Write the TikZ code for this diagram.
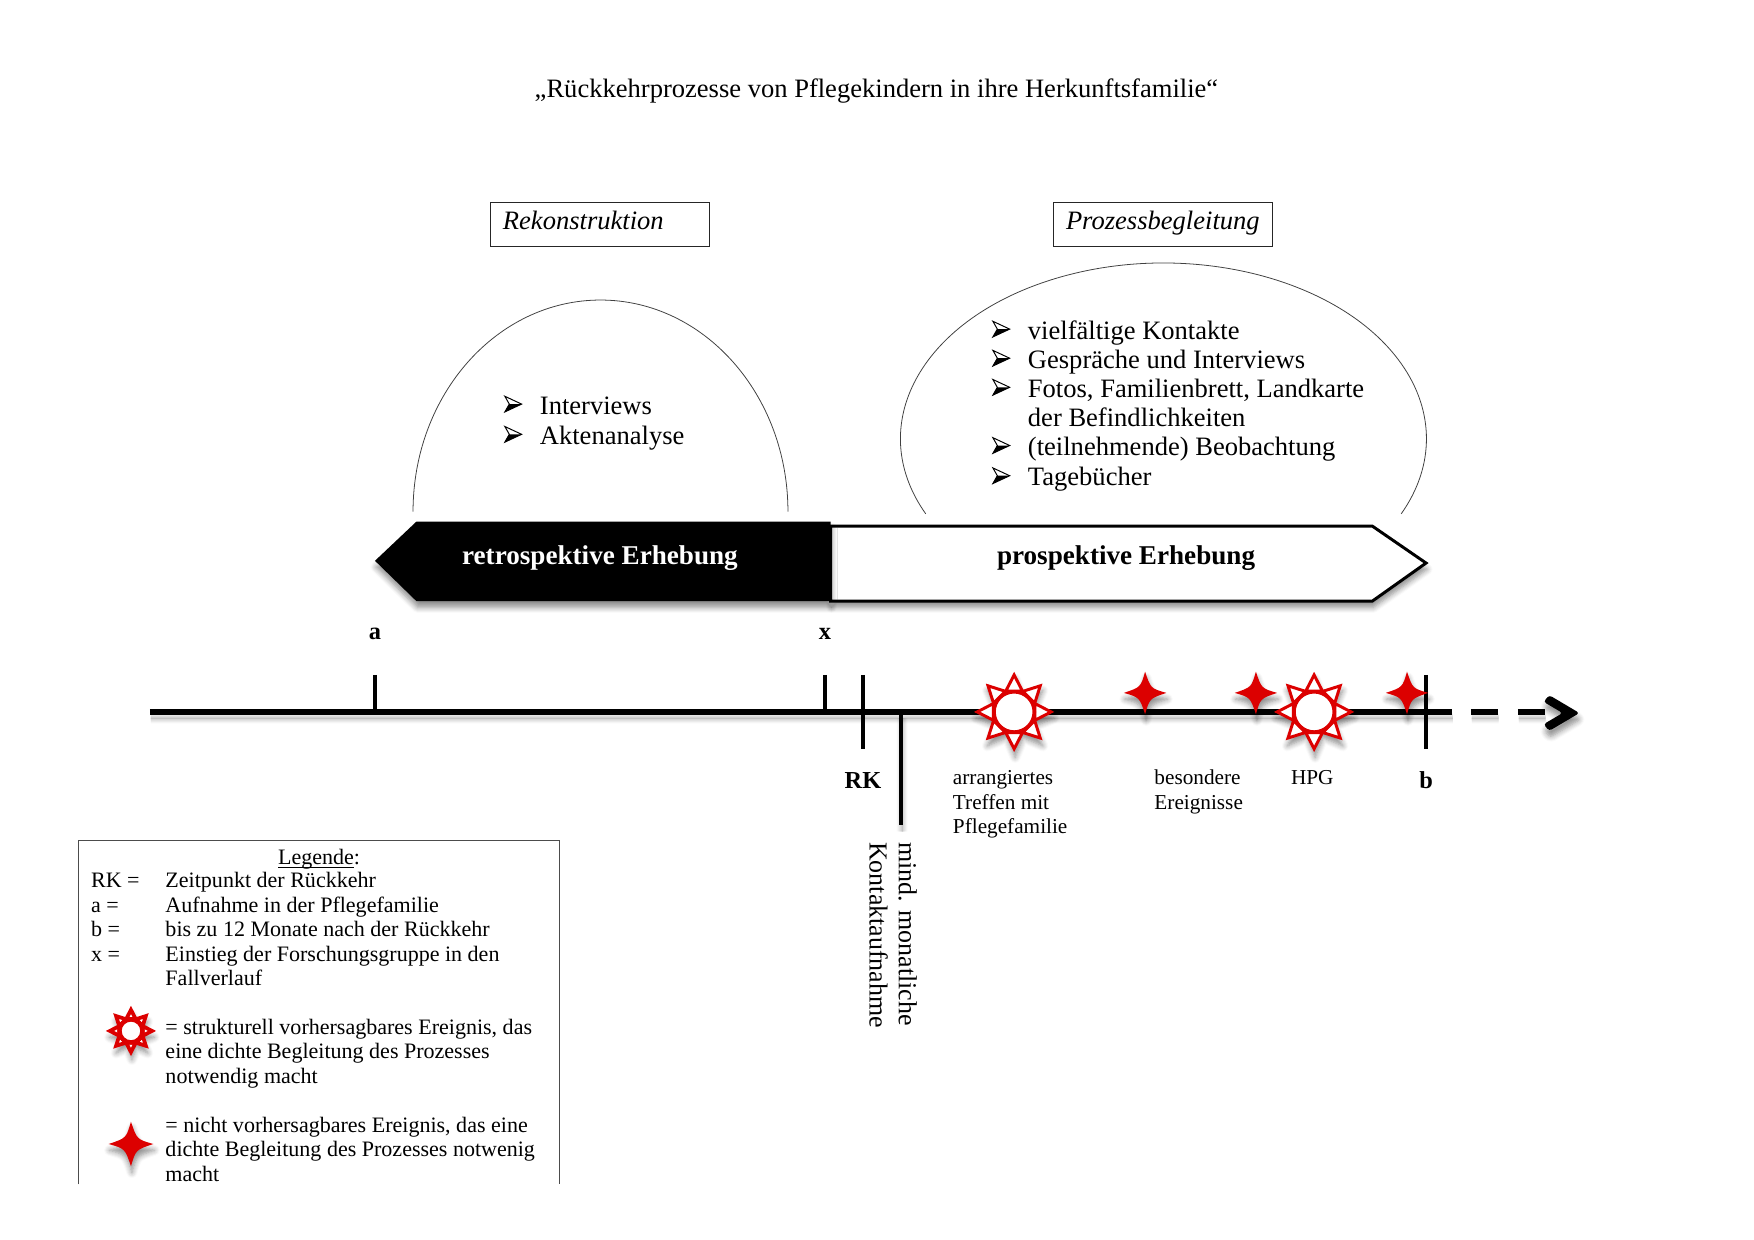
\documentclass[tikz,border=0pt]{standalone}
\usepackage{fontspec}
\setmainfont{Liberation Serif}
\usetikzlibrary{positioning,shadows,shadows.blur}
\definecolor{eventred}{HTML}{DC0000}
\newcommand{\bigtext}{\fontsize{13.5}{15}\selectfont}
\newcommand{\smalltext}{\fontsize{11.2}{12.5}\selectfont}
\tikzset{
	soft shadow/.style = {blur shadow={shadow xshift=.5pt, shadow yshift=-3.2pt, shadow blur steps=6, shadow blur radius=2.8pt, shadow opacity=45}},
	head box/.style    = {draw=black!85, line width=.5pt},
	head text/.style   = {anchor=base west, inner sep=0pt, font=\bigtext\itshape},
	hill/.style        = {draw=black!75, line width=.4pt},
	bar text/.style    = {font=\fontsize{13.8}{15}\selectfont\bfseries, inner sep=0pt},
	item/.style        = {anchor=base west, inner sep=0pt, font=\bigtext},
	axis/.style        = {line width=3.2pt, black, soft shadow},
	tick/.style        = {line width=1.7pt, black},
	tick label/.style  = {font=\fontsize{12.4}{15}\selectfont\bfseries, inner sep=0pt},
	event text/.style  = {anchor=base west, inner sep=0pt, font=\fontsize{10.8}{13}\selectfont},
	turned text/.style = {anchor=base west, inner sep=0pt, rotate=-90, font=\fontsize{13.2}{15}\selectfont},
	legend text/.style = {anchor=base west, inner sep=0pt, font=\smalltext},
	sun stroke/.store in = \sunstroke,
	sun stroke = 1.5pt,
	pics/list bullet/.style = {code={
		\draw[black, fill=white, line width=.5pt, line join=miter] (-7,-7) -- (8,0) -- (-7,7) -- (-3,0) -- cycle;
		\fill[black] (-3,0) -- (8,0) -- (-7,7) -- cycle;
	}},
	pics/event sun/.style = {code={
		\path[fill=white, soft shadow] (0:35)
			\foreach \a in {22.5,45,...,337.5} {-- (\a:{mod(\a,45)==0 ? 35 : 19})} -- cycle;
		\foreach \a in {0,45,...,315}
			\draw[eventred, fill=white, line width=\sunstroke, line join=miter] (\a:33) -- (\a+22:20) -- (\a-22:20) -- cycle;
		\draw[eventred, fill=white, line width=\sunstroke+.3pt] (0,0) circle (18);
	}},
	pics/event star/.style = {code={
		\fill[eventred, soft shadow] (19,0) .. controls (5,-4) .. (0,-19) .. controls (-4,-5) .. (-19,0)
			.. controls (-5,4) .. (0,19) .. controls (4,5) .. (19,0) -- cycle;
	}}
}

\begin{document}
\begin{tikzpicture}[x=.02cm, y=-.02cm]
	\useasboundingbox (0,0) rectangle (1567,1107);

	\node[inner sep=0pt, font=\bigtext] (title) at (783,81) {„Rückkehrprozesse von Pflegekindern in ihre Herkunftsfamilie“};

	% two headings
	\draw[head box] (438,181) rectangle (634,220);
	\draw[head box] (941,181) rectangle (1137,220);
	\node[head text] (rekonstruktion) at (449,205) {Rekonstruktion};
	\node[head text] (begleitung) at (952,205) {Prozessbegleitung};

	% the two hills
	\draw[hill] (369,457) arc[start angle=180, end angle=0, x radius=3.35cm, y radius=3.78cm];
	\draw[hill] (827,459) arc[start angle=205.3, end angle=-25.3, x radius=4.7cm, y radius=3.14cm];

	\foreach \i/\y/\t in {1/370/Interviews, 2/397/Aktenanalyse} {
		\pic (leftbullet\i) at (458,\y-9) {list bullet};
		\node[item] (leftitem\i) at (482,\y) {\t};
	}
	\foreach \i/\y/\t in {1/303/vielfältige Kontakte, 2/329/Gespräche und Interviews, 3/355/{Fotos, Familienbrett, Landkarte}, 5/407/(teilnehmende) Beobachtung, 6/434/Tagebücher} {
		\pic (rightbullet\i) at (894,\y-9) {list bullet};
		\node[item] (rightitem\i) at (918,\y) {\t};
	}
	\node[item] (rightitem4) at (918,381) {der Befindlichkeiten};

	% block arrows
	\draw[line width=1.5pt, fill=white, line join=miter, soft shadow] (742,470) -- (1226,470) -- (1274,503) -- (1226,537) -- (742,537) -- cycle;
	\fill[black, soft shadow] (335,501) -- (372,466) -- (742,466) -- (742,537) -- (372,537) -- cycle;
	\node[bar text, white] (retro) at (536,499) {retrospektive Erhebung};
	\node[bar text] (pro) at (1006,499) {prospektive Erhebung};

	% time line
	\draw[axis] (134,636) -- (1297,636);
	\draw[axis] (1314,636) -- (1338,636);
	\draw[axis] (1356,636) -- (1380,636);
	\fill[black, rounded corners=1.5pt, soft shadow] (1379,627) -- (1384,621) -- (1411,637) -- (1384,653) -- (1379,647) -- (1396,637) -- cycle;

	\draw[tick] (335,603) -- (335,636);
	\draw[tick] (737,603) -- (737,636);
	\draw[tick] (771,603) -- (771,669);
	\draw[tick, soft shadow] (805,636) -- (805,737);
	\draw[tick] (1274,603) -- (1274,669);

	\node[tick label] (a) at (335,566) {a};
	\node[tick label] (x) at (737,566) {x};
	\node[tick label] (RK) at (771,697) {RK};
	\node[tick label] (b) at (1274,697) {b};

	\pic (sun1) at (906,636) {event sun};
	\pic (sun2) at (1174,636) {event sun};
	\pic (star1) at (1023,619) {event star};
	\pic (star2) at (1122,619) {event star};
	\pic (star3) at (1257,619) {event star};

	\node[event text] (treffen1) at (851,701) {arrangiertes};
	\node[event text] (treffen2) at (851,723) {Treffen mit};
	\node[event text] (treffen3) at (851,745) {Pflegefamilie};
	\node[event text] (ereignis1) at (1031,701) {besondere};
	\node[event text] (ereignis2) at (1031,723) {Ereignisse};
	\node[event text] (hpg) at (1153,701) {HPG};
	\node[turned text] (monat) at (803,752) {mind. monatliche};
	\node[turned text] (kontakt) at (777,752) {Kontaktaufnahme};

	% legend, open at the bottom
	\draw[draw=black!70, line width=.5pt] (70,1058) -- (70,751) -- (500,751) -- (500,1058);
	\node[legend text, anchor=base] (legende) at (285,772) {\underline{\smash{Legende}}:};
	\foreach \i/\y/\k/\t in {1/793/RK =/Zeitpunkt der Rückkehr, 2/815/a =/Aufnahme in der Pflegefamilie, 3/837/b =/bis zu 12 Monate nach der Rückkehr, 4/859/x =/Einstieg der Forschungsgruppe in den} {
		\node[legend text] (key\i) at (81,\y) {\k};
		\node[legend text] (val\i) at (147.5,\y) {\t};
	}
	\foreach \i/\y/\t in {5/880/Fallverlauf, 6/924/= strukturell vorhersagbares Ereignis{,} das, 7/946/eine dichte Begleitung des Prozesses, 8/968/notwendig macht, 9/1011.5/= nicht vorhersagbares Ereignis{,} das eine, 10/1033.5/dichte Begleitung des Prozesses notwenig, 11/1055.5/macht}
		\node[legend text] (val\i) at (147.5,\y) {\t};
	\pic[scale=.57, sun stroke=1.9pt] (sun3) at (117,921) {event sun};
	\pic[scale=1.05] (star4) at (117,1022) {event star};
\end{tikzpicture}
\end{document}
